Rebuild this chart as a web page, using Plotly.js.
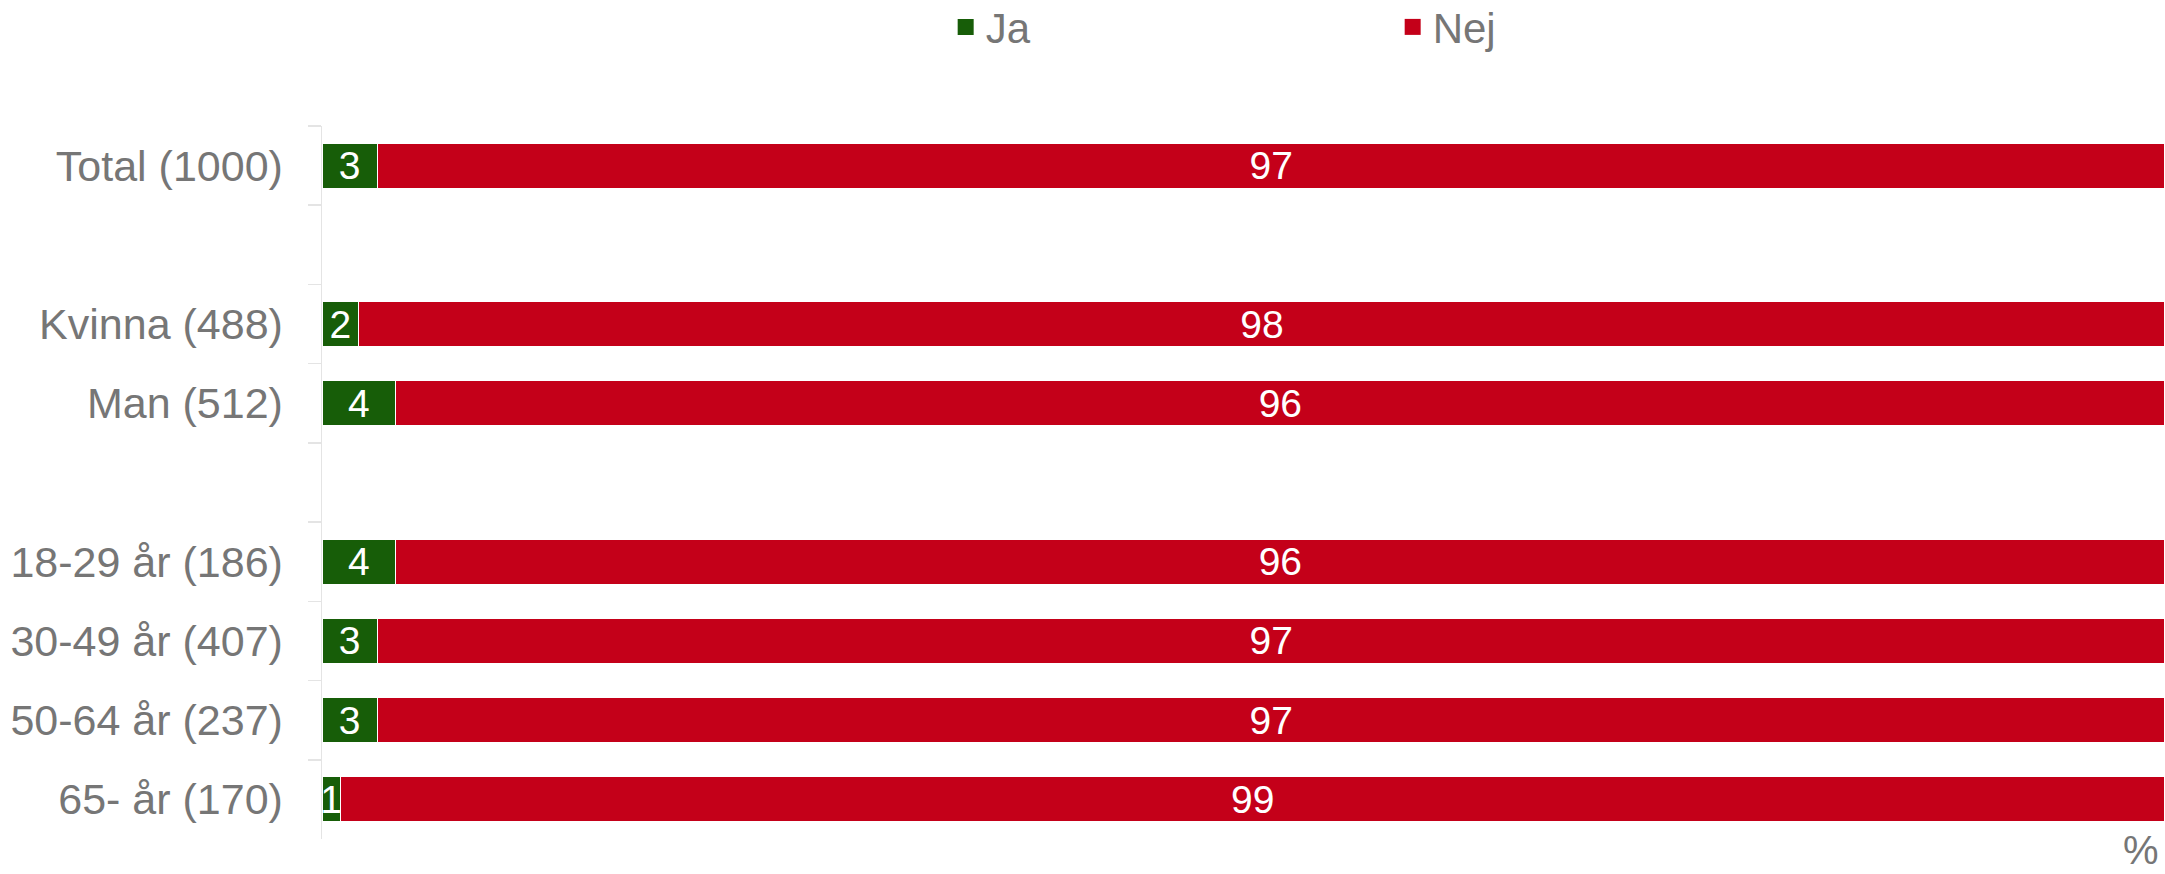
<!DOCTYPE html>
<html>
<head>
<meta charset="utf-8">
<script src="https://cdn.plot.ly/plotly-3.0.1.min.js"></script>
<style>html,body{margin:0;padding:0;background:#fff;}#chart{width:2165px;height:874px;}</style>
</head>
<body>
<div id="chart"></div>
<script>
const categories = ["Total (1000)", " ", "Kvinna (488)", "Man (512)", "  ", "18-29 år (186)", "30-49 år (407)", "50-64 år (237)", "65- år (170)"];
const jaValues  = [3, null, 2, 4, null, 4, 3, 3, 1];
const nejValues = [97, null, 98, 96, null, 96, 97, 97, 99];
const seriesNames = ["Ja", "Nej"];
const colors = ["#175d08", "#c40019"];
const labelGrey = "#767676";
const FONT = "Liberation Sans, Arial, sans-serif";

function mkTrace(vals, name, color) {
  return {
    type: "bar", orientation: "h",
    y: categories, x: vals, name: name,
    marker: {color: color, line: {color: "#ffffff", width: 1.2}},
    width: 0.57,
    text: vals.map(v => v == null ? "" : String(v)),
    textposition: "inside", insidetextanchor: "middle",
    textangle: 0,
    constraintext: "none",
    textfont: {family: FONT, size: 39, color: "#ffffff"},
    hoverinfo: "x+y",
    showlegend: false
  };
}

function mkLegend(name, color) {
  return {
    type: "scatter", mode: "markers", x: [null], y: [categories[0]],
    name: name, showlegend: true,
    marker: {symbol: "square", size: 16, color: color},
    hoverinfo: "skip"
  };
}

const data = [
  mkTrace(jaValues, seriesNames[0], colors[0]),
  mkTrace(nejValues, seriesNames[1], colors[1]),
  mkLegend(seriesNames[0], colors[0]),
  mkLegend(seriesNames[1], colors[1])
];

const layout = {
  width: 2165, height: 874,
  margin: {l: 322, r: 0, t: 126, b: 35},
  barmode: "stack",
  paper_bgcolor: "#ffffff", plot_bgcolor: "#ffffff",
  font: {family: FONT, color: labelGrey},
  xaxis: {range: [0, 100], visible: false, fixedrange: true},
  yaxis: {
    type: "category", categoryorder: "array", categoryarray: categories,
    range: [categories.length - 0.5, -0.5], autorange: false,
    showline: true, linecolor: "#e4e4e4", linewidth: 1.5,
    ticks: "outside", tickson: "boundaries", ticklen: 13, tickcolor: "#e4e4e4", tickwidth: 1.5,
    ticklabelstandoff: 29,
    showgrid: false, zeroline: false,
    tickfont: {size: 43, color: labelGrey, family: FONT}
  },
  showlegend: true,
  legend: {
    orientation: "h", xref: "container", yref: "container",
    x: 0.4368, xanchor: "left", y: 0.969, yanchor: "middle",
    entrywidth: 402, entrywidthmode: "pixels",
    itemsizing: "trace",
    font: {size: 42, color: labelGrey, family: FONT},
    itemclick: false, itemdoubleclick: false, traceorder: "normal"
  },
  annotations: [{
    xref: "paper", yref: "paper", x: 1, y: 0, xanchor: "right", yanchor: "bottom",
    yshift: -35, xshift: -4,
    text: "%", showarrow: false,
    font: {size: 40, color: labelGrey, family: FONT}
  }]
};

Plotly.newPlot("chart", data, layout, {displayModeBar: false, staticPlot: true});
</script>
</body>
</html>
